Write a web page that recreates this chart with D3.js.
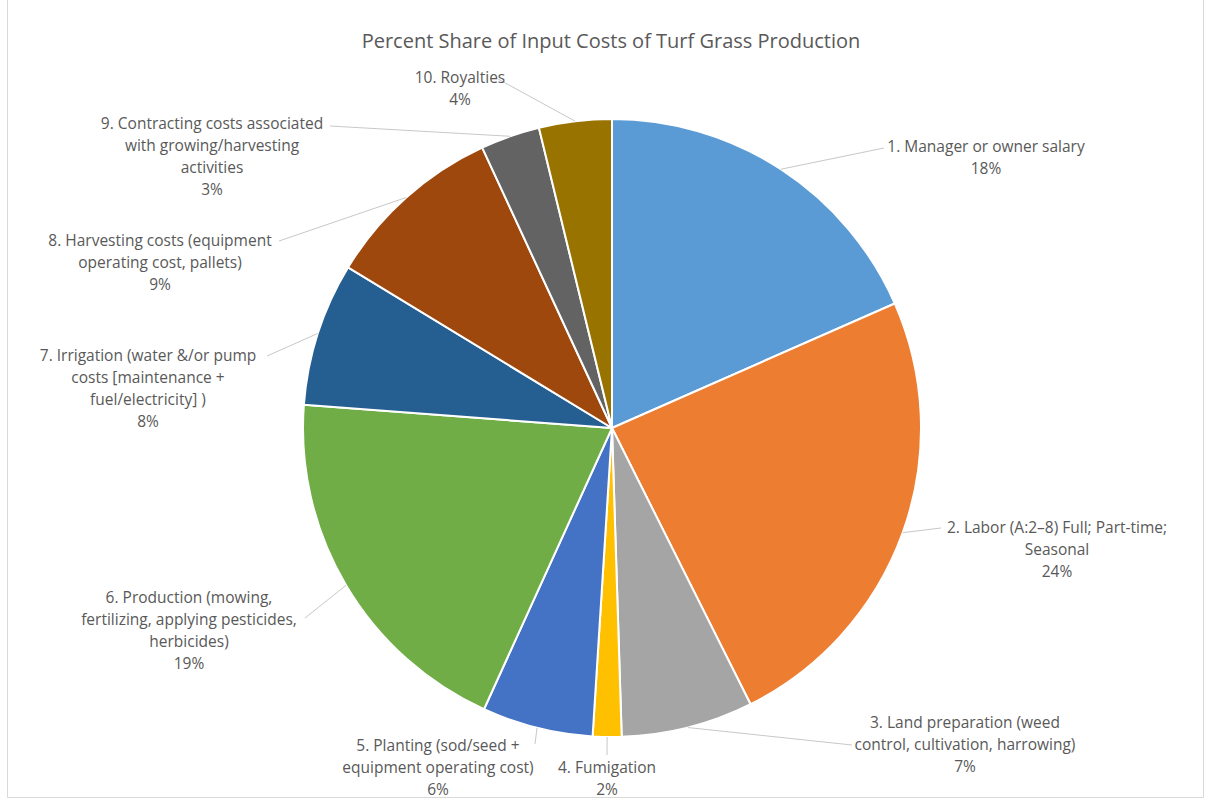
<!DOCTYPE html>
<html>
<head>
<meta charset="utf-8">
<script src="https://cdn.jsdelivr.net/npm/d3@7"></script>
<style>
  html, body { margin: 0; padding: 0; background: #fff; }
  svg { display: block; }
</style>
</head>
<body>
<svg id="chart" width="1210" height="799"></svg>
<script>
// Cost categories, each split into the lines it is printed on
const categories = [
  ["1. Manager or owner salary"],
  ["2. Labor (A:2–8) Full; Part-time;", "Seasonal"],
  ["3. Land preparation (weed", "control, cultivation, harrowing)"],
  ["4. Fumigation"],
  ["5. Planting (sod/seed +", "equipment operating cost)"],
  ["6. Production (mowing,", "fertilizing, applying pesticides,", "herbicides)"],
  ["7. Irrigation (water &/or pump", "costs [maintenance +", "fuel/electricity] )"],
  ["8. Harvesting costs (equipment", "operating cost, pallets)"],
  ["9. Contracting costs associated", "with growing/harvesting", "activities"],
  ["10. Royalties"]
];
// Share of total input cost, percent
const shares = [18.4, 24.2, 6.9, 1.5, 5.8, 19.4, 7.5, 9.4, 3.1, 3.8];
const colors = ["#5B9BD5", "#ED7D31", "#A5A5A5", "#FFC000", "#4472C4",
                "#70AD47", "#255E91", "#9E480E", "#636363", "#997300"];
const title = "Percent Share of Input Costs of Turf Grass Production";

// Label placement: centre of the first text line, and where its leader starts
const labelLayout = [
  { cx: 986,  cy: 146, lx: 884, ly: 148 },
  { cx: 1057, cy: 527, lx: 941, ly: 528 },
  { cx: 965,  cy: 722, lx: 852, ly: 745 },
  { cx: 607,  cy: 767, lx: 607, ly: 755 },
  { cx: 438,  cy: 745, lx: 535, ly: 744 },
  { cx: 189,  cy: 597, lx: 305, ly: 618 },
  { cx: 148,  cy: 355, lx: 267, ly: 356 },
  { cx: 160,  cy: 240, lx: 279, ly: 241 },
  { cx: 212,  cy: 123, lx: 330, ly: 126 },
  { cx: 460,  cy: 77,  lx: 498, ly: 79 }
];

const svg = d3.select("#chart");
const cx = 612, cy = 428, R = 309;
const textColor = "#595959";
const font = "'Open Sans', Lato, sans-serif";

// chart area frame
svg.append("path")
  .attr("d", `M7.5,0 V797.5 H1203.5 V0`)
  .attr("fill", "none")
  .attr("stroke", "#d9d9d9")
  .attr("stroke-width", 1);

svg.append("text")
  .attr("x", 611).attr("y", 40)
  .attr("text-anchor", "middle")
  .attr("dominant-baseline", "central")
  .attr("font-family", font)
  .attr("font-size", 20)
  .attr("fill", textColor)
  .text(title);

const pie = d3.pie().sort(null).value(d => d).startAngle(0).endAngle(2 * Math.PI);
const arcs = pie(shares);
const arc = d3.arc().innerRadius(0).outerRadius(R);
const edge = d3.arc().innerRadius(R).outerRadius(R);

const g = svg.append("g").attr("transform", `translate(${cx},${cy})`);

g.selectAll("path.slice")
  .data(arcs)
  .join("path")
  .attr("class", "slice")
  .attr("d", arc)
  .attr("fill", (d, i) => colors[i])
  .attr("stroke", "#fff")
  .attr("stroke-width", 2)
  .attr("stroke-linejoin", "round");

// leader lines from each label to the rim of its slice
svg.selectAll("line.leader")
  .data(arcs)
  .join("line")
  .attr("class", "leader")
  .attr("x1", (d, i) => labelLayout[i].lx)
  .attr("y1", (d, i) => labelLayout[i].ly)
  .attr("x2", d => cx + edge.centroid(d)[0])
  .attr("y2", d => cy + edge.centroid(d)[1])
  .attr("stroke", "#c8c8c8")
  .attr("stroke-width", 1);

const lineH = 22;
const labels = svg.selectAll("text.label")
  .data(arcs)
  .join("text")
  .attr("class", "label")
  .attr("text-anchor", "middle")
  .attr("font-family", font)
  .attr("font-size", 15.5)
  .attr("fill", textColor);

labels.each(function (d, i) {
  const t = d3.select(this);
  const lines = categories[i].concat([Math.round(d.data) + "%"]);
  const L = labelLayout[i];
  lines.forEach((s, k) => {
    t.append("tspan")
      .attr("x", L.cx)
      .attr("y", L.cy + k * lineH)
      .attr("dominant-baseline", "central")
      .text(s);
  });
});
</script>
</body>
</html>
